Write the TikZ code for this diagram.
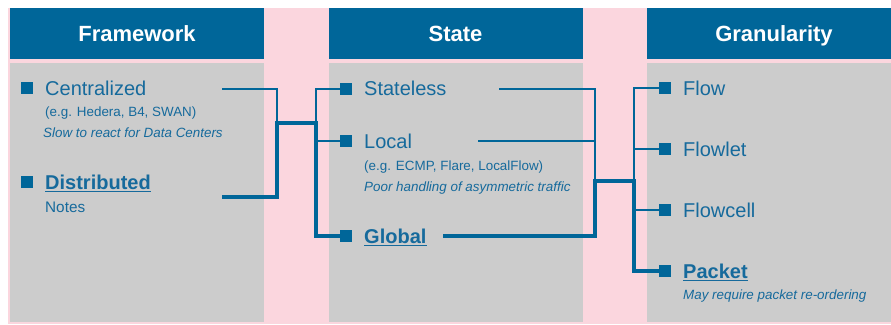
\documentclass[tikz,border=0pt]{standalone}
\usepackage{fontspec}
\setmainfont{Liberation Sans}
\definecolor{hdr}{RGB}{0,102,153}
\definecolor{txt}{RGB}{22,106,156}
\definecolor{pinkbg}{RGB}{251,214,222}
\definecolor{graybg}{RGB}{204,204,204}
\tikzset{
  hdrbox/.style={fill=hdr, text=white, minimum width=254pt, minimum height=51pt, inner sep=0pt, text height=16pt, text depth=1pt, font=\fontsize{22}{26}\selectfont\bfseries},
  bodybox/.style={fill=graybg, minimum width=254pt, minimum height=259pt, inner sep=0pt},
  item/.style={anchor=base west, text=txt, inner sep=0pt, font=\fontsize{20}{24}\selectfont},
  itemb/.style={anchor=base west, text=txt, inner sep=0pt, font=\fontsize{20}{24}\selectfont\bfseries},
  note/.style={anchor=base west, text=txt, inner sep=0pt, font=\fontsize{13.4}{16}\selectfont},
  notei/.style={anchor=base west, text=txt, inner sep=0pt, font=\fontsize{13.4}{16}\selectfont\itshape},
  bullet/.style={fill=hdr, minimum size=11.5pt, inner sep=0pt},
  thinline/.style={draw=hdr, line width=1.5pt},
  thickline/.style={draw=hdr, line width=4pt},
  uline/.style={draw=txt, line width=1.4pt}
}
\begin{document}
\begin{tikzpicture}[x=1pt,y=-1pt]
\useasboundingbox (0,0) rectangle (891,324);
\clip (0,0) rectangle (891,324);
\fill[white] (0,0) rectangle (891,324);
\fill[pinkbg] (8,8) rectangle (891,324);
% columns
\node[bodybox] (c1) at (137,192.5) {};
\node[bodybox] (c2) at (455.5,192.5) {};
\node[bodybox] (c3) at (774,192.5) {};
\node[hdrbox] (h1) at (137,33.5) {Framework};
\node[hdrbox] (h2) at (455.5,33.5) {State};
\node[hdrbox] (h3) at (774,33.5) {Granularity};
% column 1
\node[bullet] (b1) at (27,88) {};
\node[item] (t1) at (45,95) {Centralized};
\node[note] (t1a) at (45,116) {(e.g. Hedera, B4, SWAN)};
\node[notei] (t1b) at (43,137.5) {Slow to react for Data Centers};
\node[bullet] (b2) at (27,182) {};
\node[itemb] (t2) at (45,189) {Distributed};
\draw[uline] ([yshift=-2.6pt]t2.base west) -- ([yshift=-2.6pt]t2.base east);
\node[anchor=base west, text=txt, inner sep=0pt, font=\fontsize{15.3}{18}\selectfont] (t2a) at (45,212) {Notes};
% column 2
\node[bullet] (b3) at (346,89) {};
\node[item] (t3) at (364,95) {Stateless};
\node[bullet] (b4) at (346,141) {};
\node[item] (t4) at (364,148) {Local};
\node[note] (t4a) at (364,170) {(e.g. ECMP, Flare, LocalFlow)};
\node[notei] (t4b) at (364,191) {Poor handling of asymmetric traffic};
\node[bullet] (b5) at (346,236) {};
\node[itemb] (t5) at (364,243) {Global};
\draw[uline] ([yshift=-2.6pt]t5.base west) -- ([yshift=-2.6pt]t5.base east);
% column 3
\node[bullet] (b6) at (665,88) {};
\node[item] (t6) at (683,95) {Flow};
\node[bullet] (b7) at (665,149) {};
\node[item] (t7) at (683,156) {Flowlet};
\node[bullet] (b8) at (665,210) {};
\node[item] (t8) at (683,217) {Flowcell};
\node[bullet] (b9) at (665,271) {};
\node[itemb] (t9) at (683,278) {Packet};
\draw[uline] ([yshift=-2.6pt]t9.base west) -- ([yshift=-2.6pt]t9.base east);
\node[notei] (t9a) at (683,299) {May require packet re-ordering};
% connector coordinates
\coordinate (s1) at (222,89);
\coordinate (s2) at (222,197);
\coordinate (j1) at (277,123);
\coordinate (j2) at (316,123);
\coordinate (s3) at (499,89);
\coordinate (s4) at (478,141);
\coordinate (s5) at (443,236);
\coordinate (j3) at (595,181);
\coordinate (j4) at (634,181);
% col1 -> col2
\draw[thinline] (s1) -| (j1);
\draw[thinline] (j2) |- (b3.west);
\draw[thinline] (j2 |- b4.west) -- (b4.west);
\draw[thickline] (s2) -| (j1) -- (j2) |- (b5.west);
% col2 -> col3
\draw[thinline] (s3) -| (j3);
\draw[thinline] (s4) -- (j3 |- s4);
\draw[thinline] (j4) |- (b6.west);
\draw[thinline] (j4 |- b7.west) -- (b7.west);
\draw[thinline] (j4 |- b8.west) -- (b8.west);
\draw[thickline] (s5) -| (j3) -- (j4) |- (b9.west);
\end{tikzpicture}
\end{document}
